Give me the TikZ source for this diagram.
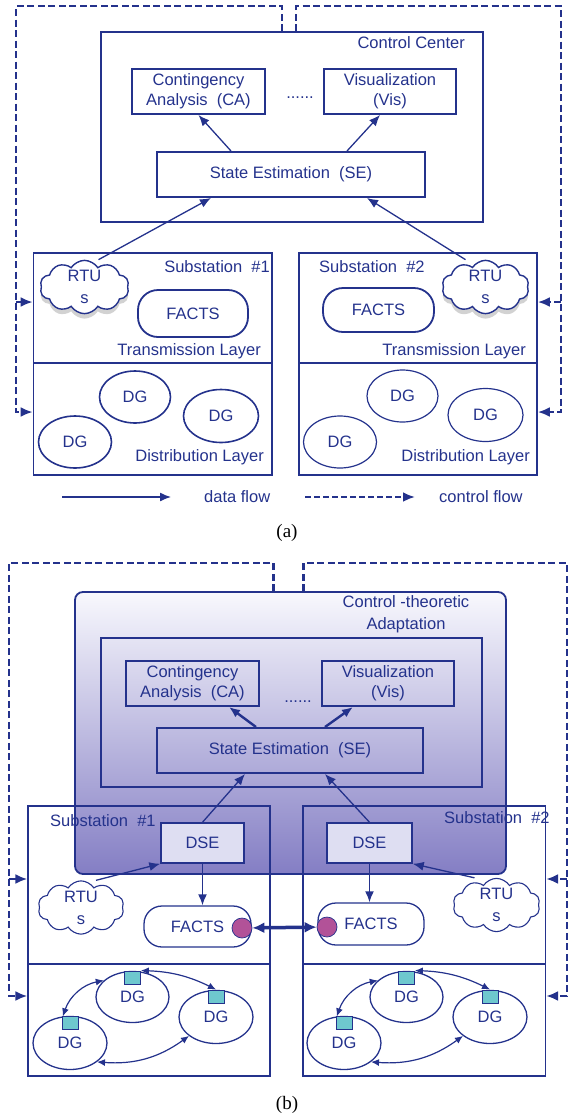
\documentclass[tikz,border=0pt]{standalone}
\usepackage{fontspec}
\setmainfont{Liberation Sans}
\newfontfamily\capfont{Liberation Serif}
\usepackage{tikz}
\usetikzlibrary{shapes,arrows.meta,positioning,calc,shadows}
\definecolor{lineblue}{RGB}{36,50,140}
\definecolor{cttop}{RGB}{248,248,253}
\definecolor{ctbot}{RGB}{132,126,196}
\definecolor{dsefill}{RGB}{222,222,242}
\definecolor{iedfill}{RGB}{178,82,152}
\definecolor{agentfill}{RGB}{110,200,206}

\begin{document}
\begin{tikzpicture}[x=1pt, y=-1pt,
    every node/.style={text=lineblue, font=\fontsize{16.5}{20}\selectfont},
    box/.style={rectangle, draw=lineblue, line width=2pt, inner sep=0pt, align=center},
    layer/.style={rectangle, draw=lineblue, line width=1.6pt, inner sep=0pt},
    rtu/.style={cloud, cloud puffs=10, cloud puff arc=115, draw=lineblue, line width=1.4pt, fill=white, inner sep=0pt, align=center, font=\fontsize{16.5}{22}\selectfont},
    rtushade/.style={drop shadow={shadow xshift=0pt, shadow yshift=-5pt, fill=gray!70, opacity=0.5}},
    facts/.style={rectangle, rounded corners=20pt, draw=lineblue, line width=1.8pt, inner sep=0pt},
    dg/.style={ellipse, draw=lineblue, line width=1.6pt, inner sep=0pt},
    agentbox/.style={rectangle, fill=agentfill, draw=lineblue, line width=0.7pt, minimum width=16pt, minimum height=13pt, inner sep=0pt},
    ied/.style={circle, fill=iedfill, draw=lineblue, line width=0.7pt, minimum size=20pt, inner sep=0pt},
    data/.style={-{Latex[length=11pt,width=9pt]}, draw=lineblue, line width=1.3pt},
    link/.style={{Latex[length=8pt,width=7pt]}-{Latex[length=8pt,width=7pt]}, draw=lineblue, line width=1.2pt},
    ctl/.style={-{Latex[length=12pt,width=10pt]}, draw=lineblue, line width=2.6pt, dash pattern=on 7pt off 3.5pt},
    lbl/.style={inner sep=0pt}
]
\useasboundingbox (0,0) rectangle (570,1117);

% ---------- (a) ----------
\node[box, minimum width=382pt, minimum height=190pt] (cc) at (292,127) {};
\node[lbl, anchor=east] at (465,43) {Control Center};
\node[box, minimum width=133pt, minimum height=45pt] (ca) at (198.5,91.5) {Contingency\\Analysis~~(CA)};
\node[box, minimum width=132pt, minimum height=45pt] (vis) at (390,91.5) {Visualization\\(Vis)};
\node[lbl] at (300,98) {......};
\node[box, minimum width=268pt, minimum height=45pt] (se) at (291,174.5) {State Estimation~~(SE)};

\node[layer, minimum width=238.5pt, minimum height=110pt] (tl1) at (152.75,308) {};
\node[layer, minimum width=238.5pt, minimum height=112pt] (dl1) at (152.75,419) {};
\node[layer, minimum width=238pt, minimum height=110pt] (tl2) at (418,308) {};
\node[layer, minimum width=238pt, minimum height=112pt] (dl2) at (418,419) {};
\node[lbl, anchor=east] at (270,267) {Substation~~\#1};
\node[lbl, anchor=east] at (261,351) {Transmission Layer};
\node[lbl, anchor=east] at (264,457) {Distribution Layer};
\node[lbl, anchor=west] at (319,267) {Substation~~\#2};
\node[lbl, anchor=east] at (526,351) {Transmission Layer};
\node[lbl, anchor=east] at (530,457) {Distribution Layer};

\node[rtu, rtushade, minimum width=89pt, minimum height=50pt] (rtu1) at (84.5,287) {RTU\\s};
\node[rtu, rtushade, minimum width=87pt, minimum height=50pt] (rtu2) at (485.5,287) {RTU\\s};
\node[facts, minimum width=110pt, minimum height=47pt] (facts1) at (193,313.5) {FACTS};
\node[facts, minimum width=111pt, minimum height=44pt] (facts2) at (378.5,310) {FACTS};
\node[dg, minimum width=71pt, minimum height=52pt] (dg1a) at (135,397) {DG};
\node[dg, minimum width=75pt, minimum height=53pt] (dg1b) at (221,416) {DG};
\node[dg, minimum width=73pt, minimum height=52pt] (dg1c) at (75,442) {DG};
\node[dg, line width=1.2pt, minimum width=71pt, minimum height=52pt] (dg2a) at (402.5,396) {DG};
\node[dg, line width=1.2pt, minimum width=75pt, minimum height=53pt] (dg2b) at (485.5,415) {DG};
\node[dg, line width=1.2pt, minimum width=73pt, minimum height=52pt] (dg2c) at (340,442) {DG};

\draw[data] ([xshift=-60pt]se.north) -- (ca.south);
\draw[data] ([xshift=56pt]se.north) -- ([xshift=-10pt]vis.south);
\draw[data] ([xshift=14pt]rtu1.north) -- ([xshift=-80pt]se.south);
\draw[data] ([xshift=-20pt]rtu2.north) -- ([xshift=76pt]se.south);

\coordinate (ctlA1) at (16,6);
\coordinate (ctlA2) at (561,6);
\coordinate (brA1) at (16,302);
\coordinate (brA2) at (561,302);
\draw[ctl] ([xshift=-10pt]cc.north) |- (ctlA1) |- ([yshift=7pt]dl1.west);
\draw[ctl] ([xshift=4pt]cc.north) |- (ctlA2) |- ([yshift=7pt]dl2.east);
\draw[ctl] (brA1) -- ([yshift=6pt]tl1.west);
\draw[ctl] (brA2) -- ([yshift=6pt]tl2.east);

% legend
\coordinate (lgA) at (62,497);
\coordinate (lgB) at (171,497);
\coordinate (lgC) at (305,497);
\coordinate (lgD) at (415,497);
\draw[data] (lgA) -- (lgB);
\node[lbl, anchor=west] at (204,497) {data flow};
\draw[ctl, dash pattern=on 6pt off 3pt] (lgC) -- (lgD);
\node[lbl, anchor=west] at (439,497) {control flow};
\node[text=black, font=\capfont\fontsize{19}{22}\selectfont] at (287,533) {(a)};

% ---------- (b) ----------
\node[rectangle, rounded corners=8pt, draw=lineblue, line width=1.8pt, top color=cttop, bottom color=ctbot, minimum width=431pt, minimum height=282pt] (ct) at (290.5,733) {};
\node[lbl, align=center, font=\fontsize{16.5}{22}\selectfont] at (406,614) {Control -theoretic\\Adaptation};
\node[box, minimum width=381pt, minimum height=149pt] (cc2) at (291.5,712.5) {};
\node[box, minimum width=133pt, minimum height=45pt] (ca2) at (192.5,683.5) {Contingency\\Analysis~~(CA)};
\node[box, minimum width=132pt, minimum height=45pt] (vis2) at (388,683.5) {Visualization\\(Vis)};
\node[lbl] at (298,702) {......};
\node[box, minimum width=266pt, minimum height=45pt] (se2) at (290,750.5) {State Estimation~~(SE)};
\node[box, fill=dsefill, line width=1.5pt, minimum width=83pt, minimum height=40pt] (dse1) at (202.5,843) {DSE};
\node[box, fill=dsefill, line width=1.5pt, minimum width=85pt, minimum height=40pt] (dse2) at (369.5,843) {DSE};

\node[layer, line width=1.2pt, minimum width=242pt, minimum height=158pt] (tl3) at (149,885) {};
\node[layer, line width=1.2pt, minimum width=242pt, minimum height=112pt] (dl3) at (149,1020) {};
\node[layer, line width=1.2pt, minimum width=242.5pt, minimum height=158pt] (tl4) at (424.25,885) {};
\node[layer, line width=1.2pt, minimum width=242.5pt, minimum height=112pt] (dl4) at (424.25,1020) {};
\node[lbl, anchor=west] at (50,821) {Substation~~\#1};
\node[lbl, anchor=west] at (444,818) {Substation~~\#2};

\node[rtu, line width=1.1pt, minimum width=86pt, minimum height=45pt] (rtu3) at (81,907.5) {RTU\\s};
\node[rtu, line width=1.1pt, minimum width=87pt, minimum height=46pt] (rtu4) at (496.5,905) {RTU\\s};
\node[facts, line width=1.3pt, rounded corners=18pt, minimum width=107pt, minimum height=41pt] (facts3) at (197.5,926.5) {FACTS};
\node[facts, line width=1.3pt, rounded corners=18pt, minimum width=106pt, minimum height=42pt] (facts4) at (371,924) {FACTS};
\node[ied] (ied1) at (242,928) {};
\node[ied] (ied2) at (327,927) {};
\draw[{Latex[length=12pt,width=11pt]}-{Latex[length=12pt,width=11pt]}, draw=lineblue, line width=3.5pt] (ied1) -- (ied2);

\draw[data] (dse1.north) -- ([xshift=-45pt]se2.south);
\draw[data] (dse2.north) -- ([xshift=35pt]se2.south);
\draw[data, line width=2.4pt] ([xshift=-34pt]se2.north) -- ([xshift=36.5pt]ca2.south);
\draw[data, line width=2.4pt] ([xshift=35pt]se2.north) -- ([xshift=-35pt]vis2.south);
\draw[data] ([xshift=15pt]rtu3.north) -- (dse1.south west);
\draw[data] ([xshift=-22pt]rtu4.north) -- (dse2.south east);
\draw[data, line width=1.8pt] (dse1.south) -- (dse1.south |- facts3.north);
\draw[data, line width=1.8pt] (dse2.south) -- (dse2.south |- facts4.north);

\node[dg, line width=1.3pt, minimum width=73pt, minimum height=51pt] (dg3a) at (132.5,997) {DG};
\node[dg, line width=1.3pt, minimum width=74pt, minimum height=53pt] (dg3b) at (216,1017) {DG};
\node[dg, line width=1.3pt, minimum width=74pt, minimum height=53pt] (dg3c) at (70,1043) {DG};
\node[dg, line width=1.3pt, minimum width=73pt, minimum height=51pt] (dg4a) at (406.5,997) {DG};
\node[dg, line width=1.3pt, minimum width=74pt, minimum height=53pt] (dg4b) at (490,1017) {DG};
\node[dg, line width=1.3pt, minimum width=74pt, minimum height=53pt] (dg4c) at (344,1043) {DG};
\node[agentbox] (ag3a) at ([yshift=-6.5pt]dg3a.north) {};
\node[agentbox] (ag3b) at ([yshift=-6.5pt]dg3b.north) {};
\node[agentbox] (ag3c) at ([yshift=-6.5pt]dg3c.north) {};
\node[agentbox] (ag4a) at ([yshift=-6.5pt]dg4a.north) {};
\node[agentbox] (ag4b) at ([yshift=-6.5pt]dg4b.north) {};
\node[agentbox] (ag4c) at ([yshift=-6.5pt]dg4c.north) {};
\draw[link] (dg3a.150) to[bend right=30] (dg3c.105);
\draw[link] (ag3a.north east) to[bend left=12] (ag3b.north);
\draw[link] (dg3c.-35) to[bend right=20] (dg3b.215);
\draw[link] (dg4a.150) to[bend right=30] (dg4c.105);
\draw[link] (ag4a.north east) to[bend left=12] (ag4b.north);
\draw[link] (dg4c.-35) to[bend right=20] (dg4b.215);

\coordinate (ctlB1) at (9,563);
\coordinate (ctlB2) at (567,563);
\coordinate (brB1) at (9,879);
\coordinate (brB2) at (567,879);
\draw[ctl] ([xshift=-17pt]ct.north) |- (ctlB1) |- ([yshift=24pt]dl3.west);
\draw[ctl] ([xshift=13pt]ct.north) |- (ctlB2) |- ([yshift=24pt]dl4.east);
\draw[ctl] (brB1) -- ([yshift=6pt]tl3.west);
\draw[ctl] (brB2) -- ([yshift=6pt]tl4.east);
\node[text=black, font=\capfont\fontsize{19}{22}\selectfont] at (287,1105) {(b)};
\end{tikzpicture}
\end{document}
